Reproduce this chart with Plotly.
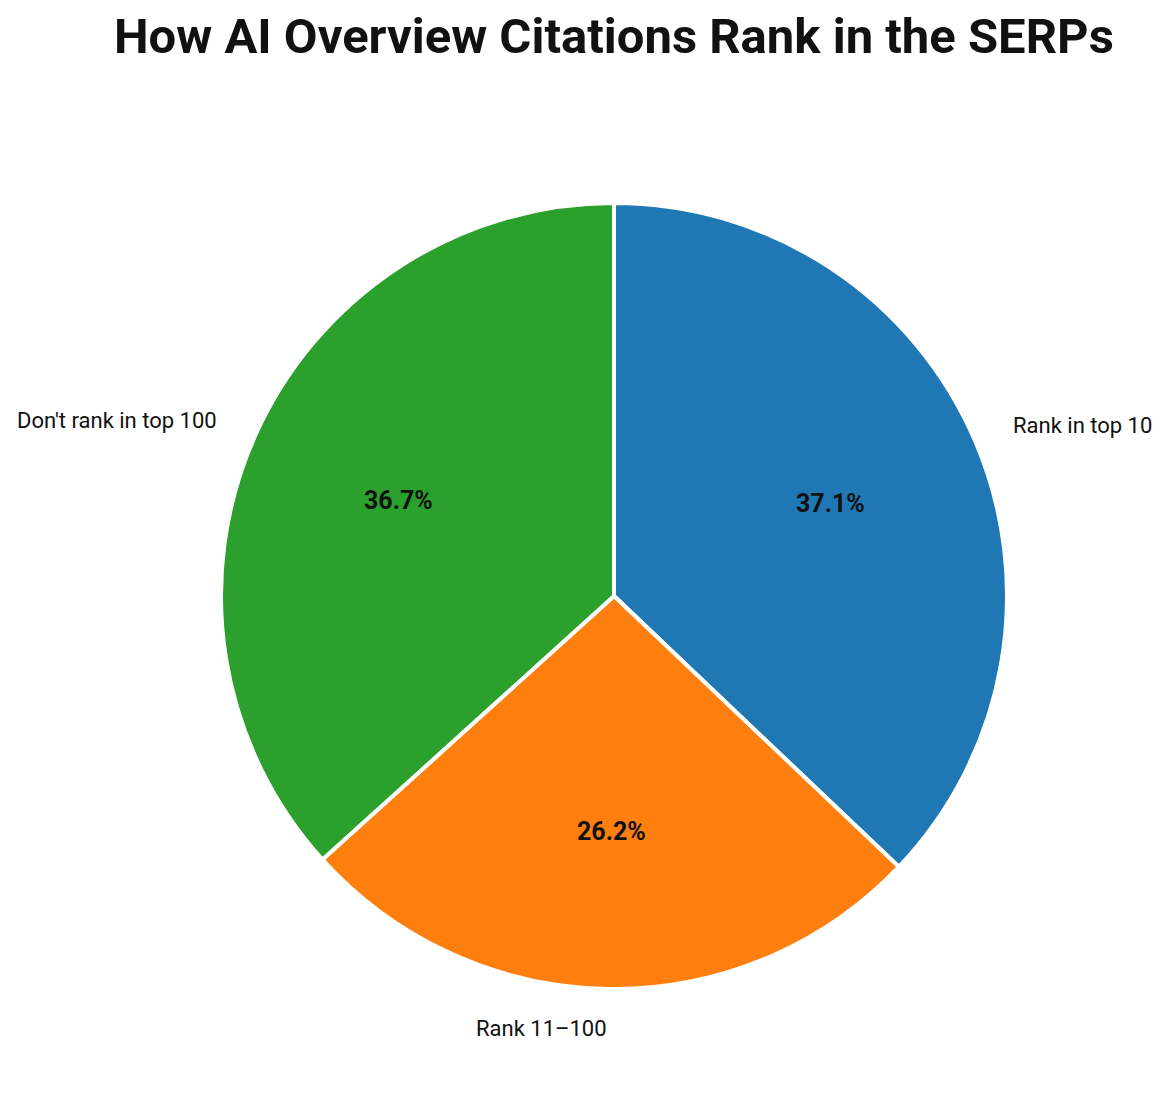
import math
import plotly.graph_objects as go

categories = ["Rank in top 10", "Rank 11\u2013100", "Don't rank in top 100"]
values = [37.1, 26.2, 36.7]
colors = ["#1f77b4", "#ff7f0e", "#2ca02c"]
title_text = "How AI Overview Citations Rank in the SERPs"

W, H = 1168, 1104
OFF = 8  # page body margin offset
cx_px, cy_px, r_px = 614 - OFF, 596 - OFF, 393

dom_x = [(cx_px - r_px) / W, (cx_px + r_px) / W]
dom_y = [(H - cy_px - r_px) / H, (H - cy_px + r_px) / H]

fig = go.Figure(go.Pie(
    labels=categories,
    values=values,
    sort=False,
    direction="clockwise",
    rotation=0,
    textinfo="none",
    hoverinfo="skip",
    marker=dict(colors=colors, line=dict(color="white", width=4)),
    domain=dict(x=dom_x, y=dom_y),
    showlegend=False,
))

total = sum(values)
annotations = []
cum = 0.0
for lab, v in zip(categories, values):
    mid = cum + v / 2
    cum += v
    ang = math.radians(90 - 360 * mid / total)
    ca, sa = math.cos(ang), math.sin(ang)
    px = cx_px + 0.6 * r_px * ca
    py = cy_px - 0.6 * r_px * sa
    annotations.append(dict(
        x=px / W, y=1 - py / H, xref="paper", yref="paper",
        text=f"<b>{v / total * 100:.1f}%</b>", showarrow=False,
        xanchor="center", yanchor="middle",
        font=dict(family="Roboto", size=25, color="#111111"),
    ))
    lx = cx_px + 1.1 * r_px * ca
    ly = cy_px - 1.1 * r_px * sa
    annotations.append(dict(
        x=lx / W, y=1 - ly / H, xref="paper", yref="paper",
        text=lab, showarrow=False,
        xanchor="left" if ca > 0 else "right", yanchor="middle",
        font=dict(family="Roboto", size=22, color="#111111"),
    ))

annotations.append(dict(
    x=cx_px / W, y=1 - (37 - OFF) / H, xref="paper", yref="paper",
    text=f"<b>{title_text}</b>", showarrow=False,
    xanchor="center", yanchor="middle",
    font=dict(family="Roboto", size=49, color="#111111"),
))

fig.update_layout(
    width=W, height=H,
    margin=dict(l=0, r=0, t=0, b=0),
    paper_bgcolor="white",
    plot_bgcolor="white",
    annotations=annotations,
)

fig.write_html("out.html")
